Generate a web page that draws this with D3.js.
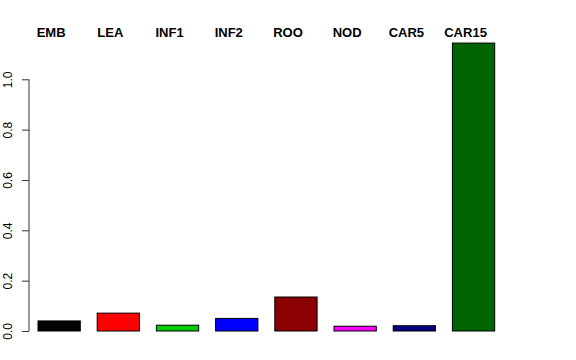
<!DOCTYPE html>
<html>
<head>
<meta charset="utf-8">
<script src="https://cdn.jsdelivr.net/npm/d3@7"></script>
<style>
  body { margin: 0; background: #fff; }
  text { font-family: "Liberation Sans", Arial, sans-serif; }
</style>
</head>
<body>
<div id="chart"></div>
<script>
// data
var categories = ['EMB', 'LEA', 'INF1', 'INF2', 'ROO', 'NOD', 'CAR5', 'CAR15'];
var values = [0.040, 0.071, 0.023, 0.050, 0.135, 0.019, 0.021, 1.144];
var colors = ['#000000', '#FF0000', '#00CD00', '#0000FF', '#8B0000', '#FF00FF', '#000080', '#006400'];
var yTicks = [0, 0.2, 0.4, 0.6, 0.8, 1.0];

var w = 576, h = 360;

var svg = d3.select('#chart')
  .append('svg')
  .attr('width', w)
  .attr('height', h);

// scales
var x = d3.scaleBand()
  .domain(categories)
  .range([38, 494.7])
  .paddingInner(0.2857)
  .paddingOuter(0);
var y = d3.scaleLinear()
  .domain([0, 1])
  .range([331, 79.3]);

// bars
svg.append('g').attr('id', 'bars')
  .selectAll('rect')
  .data(categories)
  .enter().append('rect')
  .attr('x', function(d) { return x(d); })
  .attr('width', x.bandwidth())
  .attr('y', function(d, i) { return y(values[i]); })
  .attr('height', function(d, i) { return y(0) - y(values[i]); })
  .attr('fill', function(d, i) { return colors[i]; })
  .attr('stroke', '#000')
  .attr('stroke-width', 1);

// y axis, R style: line from first to last tick, labels rotated
var yAxis = d3.axisLeft(y)
  .tickValues(yTicks)
  .tickSize(7)
  .tickPadding(0)
  .tickFormat(d3.format('.1f'));
var gy = svg.append('g')
  .attr('id', 'axis-y')
  .attr('transform', 'translate(29,0)')
  .call(yAxis);
gy.select('.domain')
  .attr('d', 'M0,' + y(0) + 'V' + y(1))
  .attr('stroke', '#333');
gy.selectAll('.tick line').attr('stroke', '#333');
gy.selectAll('.tick text')
  .attr('x', null).attr('dy', null)
  .attr('text-anchor', 'middle')
  .attr('font-size', 12)
  .attr('fill', '#000')
  .attr('transform', 'translate(-17,0) rotate(-90)');

// category labels across the top
svg.append('g').attr('id', 'labels')
  .selectAll('text')
  .data(categories)
  .enter().append('text')
  .attr('x', function(d) { return x(d) + x.bandwidth() / 2 - 8; })
  .attr('y', 37)
  .attr('text-anchor', 'middle')
  .attr('font-size', 13)
  .attr('font-weight', 'bold')
  .text(function(d) { return d; });
</script>
</body>
</html>
